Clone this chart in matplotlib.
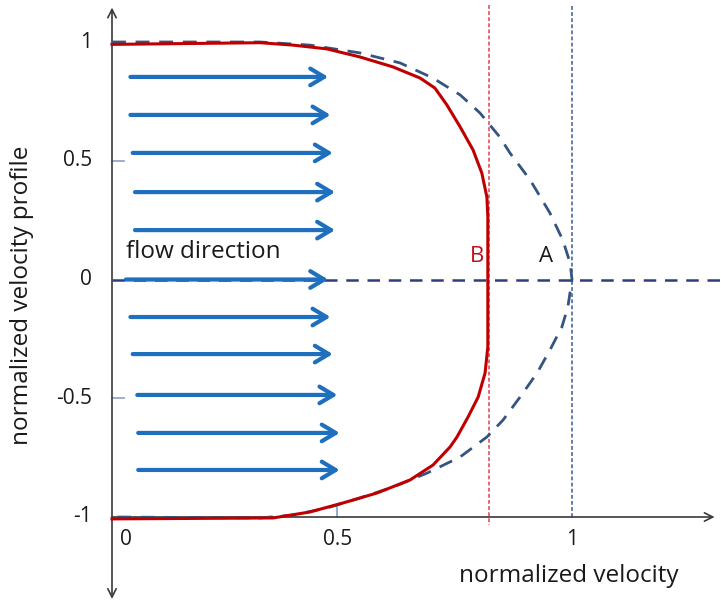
import matplotlib
matplotlib.use("Agg")
import matplotlib.pyplot as plt

# ---- data ----
# curve A: dashed profile
a_x = [0.0, 0.322, 0.43, 0.539, 0.626, 0.698, 0.757, 0.80, 0.843, 0.865, 0.909,
       0.952, 0.98, 0.996, 1.0, 0.991, 0.978, 0.952, 0.924, 0.887, 0.85, 0.815,
       0.757, 0.685, 0.611, 0.539, 0.467, 0.393, 0.322, 0.0]
a_y = [1.0, 1.0, 0.987, 0.954, 0.912, 0.848, 0.777, 0.701, 0.6, 0.533, 0.419,
       0.28, 0.166, 0.069, 0.0, -0.116, -0.2, -0.297, -0.394, -0.495, -0.592, -0.663,
       -0.747, -0.815, -0.874, -0.92, -0.962, -0.992, -1.004, -1.0]
# curve B: red (flattened) profile
b_x = [0.0, 0.322, 0.393, 0.467, 0.539, 0.611, 0.670, 0.702, 0.728, 0.757, 0.785,
       0.804, 0.815, 0.817, 0.817, 0.817, 0.811, 0.796, 0.774, 0.75, 0.735, 0.698,
       0.648, 0.576, 0.502, 0.43, 0.35, 0.0]
b_y = [0.99, 0.997, 0.987, 0.971, 0.937, 0.895, 0.848, 0.806, 0.735, 0.642, 0.545,
       0.448, 0.347, 0.263, 0.0, -0.284, -0.394, -0.495, -0.579, -0.663, -0.705, -0.781,
       -0.844, -0.899, -0.941, -0.979, -1.004, -1.008]
b_mean = 0.82          # red dotted vertical
a_max = 1.0            # blue dotted vertical

# flow arrows
arrow_y = [0.853, 0.693, 0.533, 0.368, 0.208, 0.0, -0.158, -0.314, -0.486, -0.646, -0.802]
arrow_x0 = [0.04, 0.04, 0.045, 0.05, 0.05, 0.03, 0.04, 0.045, 0.055, 0.057, 0.057]
arrow_x1 = [0.47, 0.475, 0.48, 0.485, 0.485, 0.47, 0.475, 0.48, 0.49, 0.495, 0.495]

xticks = [0, 0.5, 1]
xticklabels = ["0", "0.5", "1"]
yticks = [1, 0.5, 0, -0.5, -1]
yticklabels = ["1", "0.5", "0", "-0.5", "-1"]

# ---- figure ----
W, H = 721, 601
fig = plt.figure(figsize=(W / 100, H / 100), dpi=100)
ax = fig.add_axes([0, 0, 1, 1])
x0px, xs = 112, 460.0
y0px, ys = 279.5, 237.5
ax.set_xlim((0 - x0px) / xs, (W - x0px) / xs)
ax.set_ylim((y0px - H) / ys, (y0px - 0) / ys)
ax.axis("off")

FONT = "Open Sans"
fs = 15
fs_lab = 17.5
txtcol = "#1a1a1a"
axcol = "#3a3a3a"

# axes with arrows
aprops = dict(arrowstyle="->,head_length=0.6,head_width=0.3", color=axcol, lw=1.2,
              shrinkA=0, shrinkB=0)
ax.annotate("", xy=(0, 1.145), xytext=(0, -1.0), arrowprops=aprops)
ax.annotate("", xy=(0, -1.345), xytext=(0, -1.0), arrowprops=aprops)
ax.annotate("", xy=(1.31, -1.0), xytext=(0, -1.0), arrowprops=aprops)

# small ticks
for yt in [0.5, -0.5]:
    ax.plot([0, 0.025], [yt, yt], color="#8aa0c0", lw=1.2)
ax.plot([0.49, 0.49], [-1.0, -0.955], color="#7aa0d0", lw=1.2)

# horizontal dashed centre line
ax.plot([0.0, 1.33], [0, 0], color="#2b3f7a", lw=1.8, dashes=(5, 3.5))
# vertical dotted lines
ax.plot([b_mean, b_mean], [1.155, -1.035], color="#e0404c", lw=1.1, dashes=(2.5, 1.5))
ax.plot([a_max, a_max], [1.15, -1.0], color="#3a5a9a", lw=1.1, dashes=(2.5, 1.5))

# flow arrows
for y, xa, xb in zip(arrow_y, arrow_x0, arrow_x1):
    ax.annotate("", xy=(xb, y), xytext=(xa, y),
                arrowprops=dict(arrowstyle="->,head_length=1.0,head_width=0.6",
                                color="#1f6fbf", lw=3.0, shrinkA=0, shrinkB=0))

# curves
ax.plot(a_x, a_y, color="#33557f", lw=2.0, dashes=(5, 3.5), zorder=4)
ax.plot(b_x, b_y, color="#c00000", lw=2.2, zorder=5, solid_joinstyle="round")

# tick labels
for yt, lab in zip(yticks, yticklabels):
    ax.text(-0.043, yt, lab, ha="right", va="center", fontsize=fs, family=FONT, color=txtcol)
for xt, lab in zip(xticks, xticklabels):
    dx = 0.03 if xt == 0 else -0.01 if xt == 0.5 else 0.0
    ax.text(xt + dx, -1.05, lab, ha="center", va="top", fontsize=fs, family=FONT, color=txtcol)

# labels
ax.text((22 - x0px) / xs, (y0px - 295) / ys, "normalized velocity profile", rotation=90,
        ha="center", va="center", fontsize=fs_lab, family=FONT, color=txtcol)
ax.text((569 - x0px) / xs, (y0px - 576) / ys, "normalized velocity",
        ha="center", va="center", fontsize=fs_lab, family=FONT, color=txtcol)
ax.text((126 - x0px) / xs, (y0px - 252) / ys, "flow direction",
        ha="left", va="center", fontsize=fs_lab, family=FONT, color=txtcol)
ax.text((477 - x0px) / xs, (y0px - 256) / ys, "B", ha="center", va="center",
        fontsize=16, family=FONT, color="#c0101a")
ax.text((546 - x0px) / xs, (y0px - 256) / ys, "A", ha="center", va="center",
        fontsize=16, family=FONT, color=txtcol)

fig.savefig("out.png", dpi=100)
